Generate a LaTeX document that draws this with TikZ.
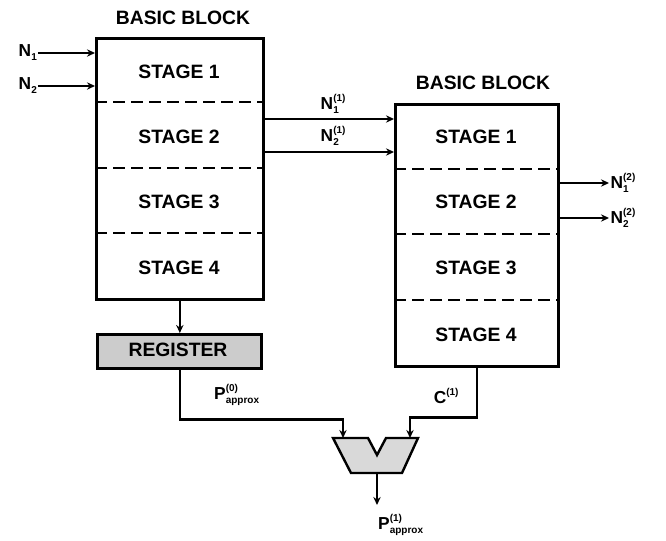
\documentclass[tikz,border=0pt]{standalone}
\usepackage{fontspec}
\setmainfont{Liberation Sans}
\usetikzlibrary{arrows.meta,calc}
\newcommand\ssz{\fontsize{7.5}{8}\selectfont\bfseries}
\newcommand\scr[3]{#1\setbox0\hbox{\ssz #2}\setbox2\hbox{\ssz #3}%
  \ifdim\wd0>\wd2 \dimen0=\wd0 \else \dimen0=\wd2 \fi
  \rlap{\raisebox{-3pt}{\copy0}}\rlap{\raisebox{6pt}{\copy2}}\hskip\dimen0}
\begin{document}
\begin{tikzpicture}[x=0.75pt,y=-0.75pt,
  every node/.style={font=\fontsize{14.5}{17}\selectfont\bfseries, inner sep=1pt},
  lbl/.style={font=\fontsize{13}{15}\selectfont\bfseries},
  blk/.style={draw, line width=2pt, anchor=north west},
  sep/.style={dashed, dash pattern=on 9pt off 4.5pt, line width=1.8pt},
  arr/.style={line width=1.9pt, -{Stealth[length=6pt,width=5.5pt]}},
  ln/.style={line width=1.9pt}]
\useasboundingbox (0,0) rectangle (666,541);
% left block
\node[blk, minimum width=125.25pt, minimum height=195.75pt] (lb) at (95,37) {};
\node (lbt) at (183,18) {BASIC BLOCK};
\draw[sep] (95,102) -- (262,102);
\draw[sep] (95,168) -- (262,168);
\draw[sep] (95,233) -- (262,233);
\node (ls1) at (179,72) {STAGE 1};
\node (ls2) at (179,137) {STAGE 2};
\node (ls3) at (179,202) {STAGE 3};
\node (ls4) at (179,268) {STAGE 4};
% right block
\node[blk, minimum width=122.25pt, minimum height=196.5pt] (rb) at (394,103) {};
\node (rbt) at (483,83) {BASIC BLOCK};
\draw[sep] (394,169) -- (557,169);
\draw[sep] (394,234) -- (557,234);
\draw[sep] (394,300) -- (557,300);
\node (rs1) at (476,137) {STAGE 1};
\node (rs2) at (476,202) {STAGE 2};
\node (rs3) at (476,268) {STAGE 3};
\node (rs4) at (476,335) {STAGE 4};
% register
\node[blk, fill=black!20, minimum width=123pt, minimum height=25.5pt] (reg) at (96,333) {};
\node (regt) at (178,350) {REGISTER};
% inputs
\node[lbl] (n1) at (25,53) {\scr{N}{1}{}};
\node[lbl] (n2) at (25,86) {\scr{N}{2}{}};
\draw[arr] (n1.east) ++(5,0) -- (n1.east -| lb.west);
\draw[arr] (n2.east) ++(5,0) -- (n2.east -| lb.west);
% middle
\coordinate (m1) at (262,119);
\coordinate (m2) at (262,152);
\draw[arr] (lb.east |- m1) -- (rb.west |- m1);
\draw[arr] (lb.east |- m2) -- (rb.west |- m2);
\node[lbl] (n11) at (327,104) {\scr{N}{1}{(1)}};
\node[lbl] (n21) at (327,136) {\scr{N}{2}{(1)}};
% right outputs
\coordinate (o1) at (609,183);
\coordinate (o2) at (609,218);
\draw[arr] (rb.east |- o1) -- (o1);
\draw[arr] (rb.east |- o2) -- (o2);
\node[lbl, anchor=west] (n12) at (o1) {\scr{N}{1}{(2)}};
\node[lbl, anchor=west] (n22) at (o2) {\scr{N}{2}{(2)}};
% register arrow
\draw[arr] (lb.south) -- (lb.south |- reg.north);
% adder
\coordinate (addinL) at (343,438);
\coordinate (addinR) at (410,438);
\coordinate (addout) at (377,473);
\draw[line width=1.8pt, fill=black!15, line join=miter]
  (333,438) -- (368,438) -- (377,455) -- (386,438) -- (418,438) -- (402,473) -- (351,473) -- cycle;
\draw[arr] (reg.south -| lb.south) -- ++(0,50) -| (addinL);
\draw[arr] (rb.south) -- ++(0,50) -| (addinR);
\coordinate (pout) at (377,505);
\draw[arr] (addout) -- (pout);
\node[lbl] (p0) at (220,395) {\scr{P}{approx}{(0)}};
\node[lbl] (c1) at (440,398) {\scr{C}{}{(1)}};
\node[lbl] (p1) at (384,525) {\scr{P}{approx}{(1)}};
\end{tikzpicture}
\end{document}
